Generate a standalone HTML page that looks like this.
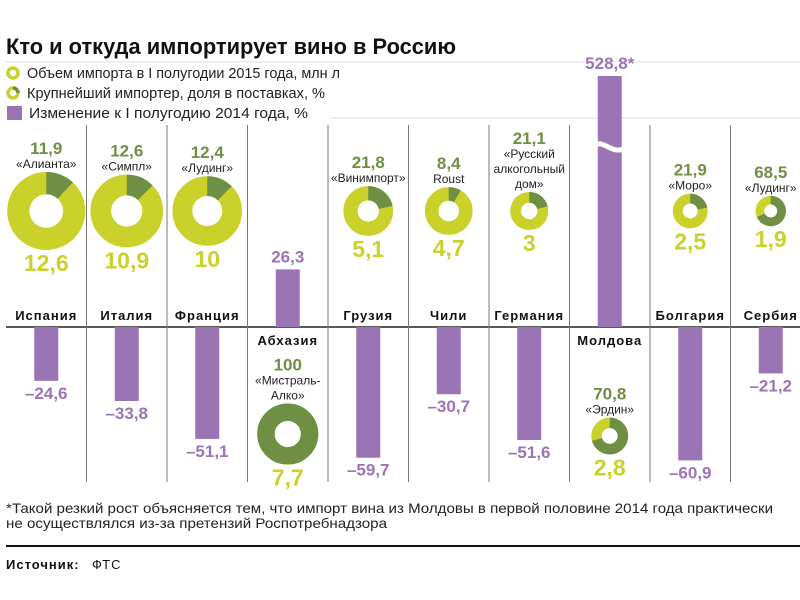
<!DOCTYPE html>
<html><head><meta charset="utf-8">
<style>
html,body{margin:0;padding:0;background:#fff;}
svg{display:block;font-family:"Liberation Sans","DejaVu Sans",sans-serif;}
</style></head>
<body>
<svg id="chart" width="800" height="600" viewBox="0 0 800 600" xmlns="http://www.w3.org/2000/svg">
<rect width="800" height="600" fill="#fff"/>
<text x="6" y="54" font-size="22" font-weight="bold" fill="#111" textLength="450" lengthAdjust="spacingAndGlyphs">Кто и откуда импортирует вино в Россию</text>
<line x1="6" y1="62" x2="800" y2="62" stroke="#ddd" stroke-width="1"/>
<line x1="330" y1="118" x2="800" y2="118" stroke="#ddd" stroke-width="1"/>
<g>
  <g>
    <circle cx="13" cy="73" r="5" fill="none" stroke="#c9d12a" stroke-width="3.5"/>
    <text x="27" y="78" font-size="15" fill="#222" textLength="313" lengthAdjust="spacingAndGlyphs">Объем импорта в I полугодии 2015 года, млн л</text>
  </g>
  <g>
    <circle cx="13" cy="93" r="5" fill="none" stroke="#c9d12a" stroke-width="3.5"/>
    <path d="M13 88 A5 5 0 0 1 18 93" fill="none" stroke="#6f8f45" stroke-width="3.5"/>
    <text x="27" y="98" font-size="15" fill="#222" textLength="298" lengthAdjust="spacingAndGlyphs">Крупнейший импортер, доля в поставках, %</text>
  </g>
  <g>
    <rect x="7" y="106" width="15" height="14" fill="#9b74b6"/>
    <text x="29" y="118" font-size="15" fill="#222" textLength="279" lengthAdjust="spacingAndGlyphs">Изменение к I полугодию 2014 года, %</text>
  </g>
</g>
<g id="plot"></g>
<text x="6" y="513" font-size="14" fill="#222" textLength="767" lengthAdjust="spacingAndGlyphs">*Такой резкий рост объясняется тем, что импорт вина из Молдовы в первой половине 2014 года практически</text>
<text x="6" y="528" font-size="14" fill="#222" textLength="381" lengthAdjust="spacingAndGlyphs">не осуществлялся из-за претензий Роспотребнадзора</text>
<line x1="6" y1="546" x2="800" y2="546" stroke="#111" stroke-width="2"/>
<text x="6" y="569" font-size="13" font-weight="bold" fill="#111" letter-spacing="1">Источник:</text>
<text x="92" y="569" font-size="13" fill="#111" letter-spacing="1">ФТС</text>
</svg>
<script>
const countries = ["Испания","Италия","Франция","Абхазия","Грузия","Чили","Германия","Молдова","Болгария","Сербия"];
const volumes = [12.6, 10.9, 10, 7.7, 5.1, 4.7, 3, 2.8, 2.5, 1.9];
const volumeLabels = ["12,6","10,9","10","7,7","5,1","4,7","3","2,8","2,5","1,9"];
const shares = [11.9, 12.6, 12.4, 100, 21.8, 8.4, 21.1, 70.8, 21.9, 68.5];
const shareLabels = ["11,9","12,6","12,4","100","21,8","8,4","21,1","70,8","21,9","68,5"];
const importers = [["«Алианта»"],["«Симпл»"],["«Лудинг»"],["«Мистраль-","Алко»"],["«Винимпорт»"],["Roust"],["«Русский","алкогольный","дом»"],["«Эрдин»"],["«Моро»"],["«Лудинг»"]];
const changes = [-24.6, -33.8, -51.1, 26.3, -59.7, -30.7, -51.6, 528.8, -60.9, -21.2];
const changeLabels = ["–24,6","–33,8","–51,1","26,3","–59,7","–30,7","–51,6","528,8*","–60,9","–21,2"];

const NS = "http://www.w3.org/2000/svg";
const plot = document.getElementById("plot");
const YELLOW="#c9d12a", GREEN="#6f8f45", PURPLE="#9b74b6";
const baseY = 327, pxPer = 2.19, colX0 = 6, colW = 80.5, barW = 24;
const brokenTop = 76, breakLimit = 110;
function colCenter(i){ return colX0 + colW*(i+0.5); }
function yScale(v){ return baseY - v*pxPer; }
function rScale(v){ return 11*Math.sqrt(v); }
function mk(tag, attrs, parent){ const e=document.createElementNS(NS,tag); for(const k in attrs) e.setAttribute(k,attrs[k]); (parent||plot).appendChild(e); return e; }
function txt(x,y,s,size,weight,fill,parent){ const t=mk("text",{x:x,y:y,"font-size":size,"font-weight":weight,fill:fill,"text-anchor":"middle"},parent); t.textContent=s; return t; }

// baseline
const bl = mk("line",{x1:6,y1:baseY,x2:800,y2:baseY,stroke:"#222","stroke-width":1.5});


// dividers
for(let i=1;i<countries.length;i++){
  const x = colX0 + colW*i;
  const d = mk("line",{x1:x,y1:125,x2:x,y2:482,stroke:"#777","stroke-width":1});
  
  
}

function donut(g, cx, cy, r, share){
  const ri = r*0.43, rm=(r+ri)/2, sw=r-ri;
  mk("circle",{cx:cx,cy:cy,r:rm,fill:"none",stroke:YELLOW,"stroke-width":sw},g);
  if(share>=100){ mk("circle",{cx:cx,cy:cy,r:rm,fill:"none",stroke:GREEN,"stroke-width":sw},g); return; }
  const a = share/100*2*Math.PI;
  const x2 = cx + rm*Math.sin(a), y2 = cy - rm*Math.cos(a);
  mk("path",{d:`M${cx} ${cy-rm} A${rm} ${rm} 0 ${share>50?1:0} 1 ${x2} ${y2}`,fill:"none",stroke:GREEN,"stroke-width":sw},g);
}

countries.forEach((name,i)=>{
  const cx = colCenter(i);
  const g = mk("g",{});
  
  
  const v = changes[i];
  const positive = v>0;
  // country label
  const lbl = txt(cx, positive ? 345 : 320, name, 13, "bold", "#111", g);
  lbl.setAttribute("letter-spacing","1");
  
  
  // bar
  let top = positive ? Math.max(yScale(v), brokenTop) : baseY;
  let bot = positive ? baseY : yScale(v);
  const bar = mk("rect",{x:cx-barW/2,y:top,width:barW,height:bot-top,fill:PURPLE},g);
  
  
  if(positive && v>breakLimit){
    const br = mk("path",{d:`M${cx-16} 146 C${cx-6} 138 ${cx+2} 156 ${cx+16} 148`,fill:"none",stroke:"#fff","stroke-width":5},g);
    
    
  }
  const bv = txt(cx, positive ? top-7 : bot+18, changeLabels[i], 17, "bold", PURPLE, g);
  
  
  // donut
  const r = rScale(volumes[i]);
  let cy, shareBase;
  if(positive){ cy = (v>breakLimit) ? 436 : 434; shareBase = cy - r - 8; }
  else { cy = 211; shareBase = cy - r - 8; }
  const dg = mk("g",{},g);
  
  
  donut(dg, cx, cy, r, shares[i]);
  const lines = importers[i];
  lines.forEach((ln,j)=>{
    const t = txt(cx, shareBase + 4 - (lines.length-1-j)*15, ln, 12, "normal", "#222", g);
    
    
  });
  const st = txt(cx, shareBase - (lines.length-1)*15 - 10, shareLabels[i], 17, "bold", GREEN, g);
  
  
  const vt = txt(cx, cy + r + 21, volumeLabels[i], 23, "bold", YELLOW, g);
  
  
});
</script>
</body></html>
